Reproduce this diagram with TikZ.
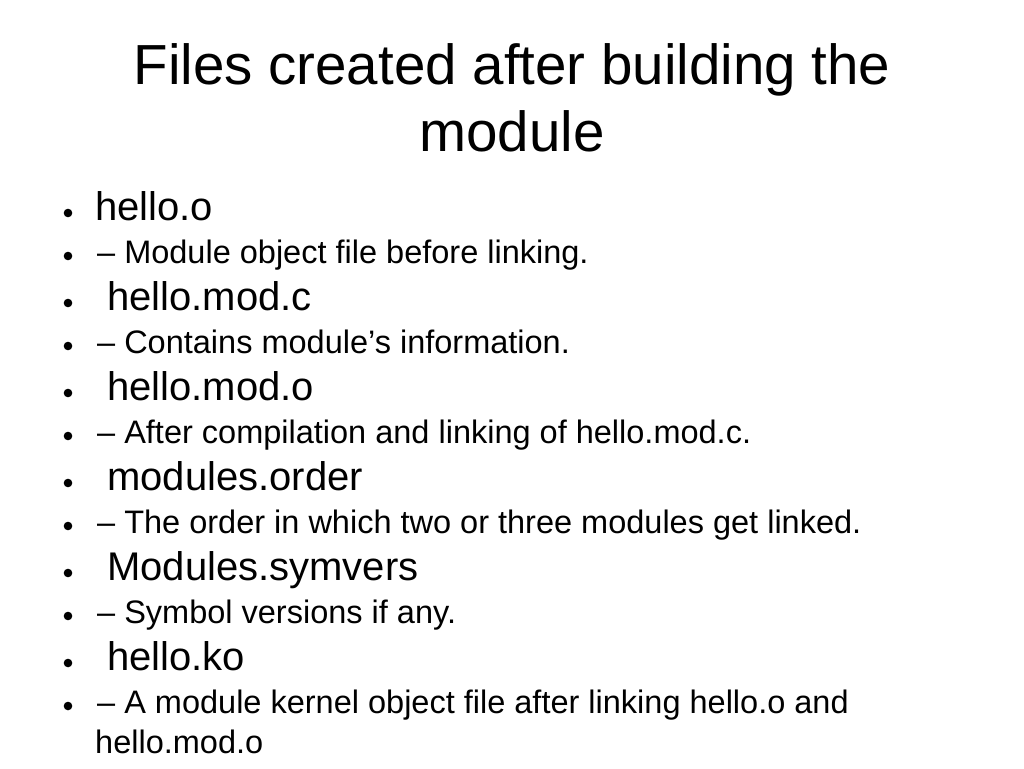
\documentclass[tikz,border=0pt]{standalone}
\usepackage{fontspec}
\setmainfont{Liberation Sans}
\begin{document}
\begin{tikzpicture}[x=1pt,y=-1pt,
  big/.style={anchor=base west,inner sep=0pt,font=\fontsize{40}{44}\selectfont},
  small/.style={anchor=base west,inner sep=0pt,font=\fontsize{32.5}{36}\selectfont},
  ttl/.style={anchor=base,inner sep=0pt,font=\fontsize{56.5}{60}\selectfont}]
\useasboundingbox (0,0) rectangle (1024,768);
\node[ttl] (t1) at (512,84) {Files created after building the};
\node[ttl] (t2) at (512,151) {module};
\foreach \y/\s/\t/\xx [count=\i] in {
 220/big/hello.o/95,
 263/small/– Module object file before linking./97,
 310/big/hello.mod.c/107,
 353/small/– Contains module’s information./97,
 400/big/hello.mod.o/107,
 443/small/– After compilation and linking of hello.mod.c./97,
 490/big/modules.order/107,
 533/small/– The order in which two or three modules get linked./97,
 580/big/Modules.symvers/107,
 623/small/– Symbol versions if any./97,
 670/big/hello.ko/107,
 713/small/– A module kernel object file after linking hello.o and/97}{
  \node[\s] (l\i) at (\xx,\y) {\t};
  \fill (68,\y-7) circle (4.3);
}
\node[small] (l13) at (95,753) {hello.mod.o};
\end{tikzpicture}
\end{document}
